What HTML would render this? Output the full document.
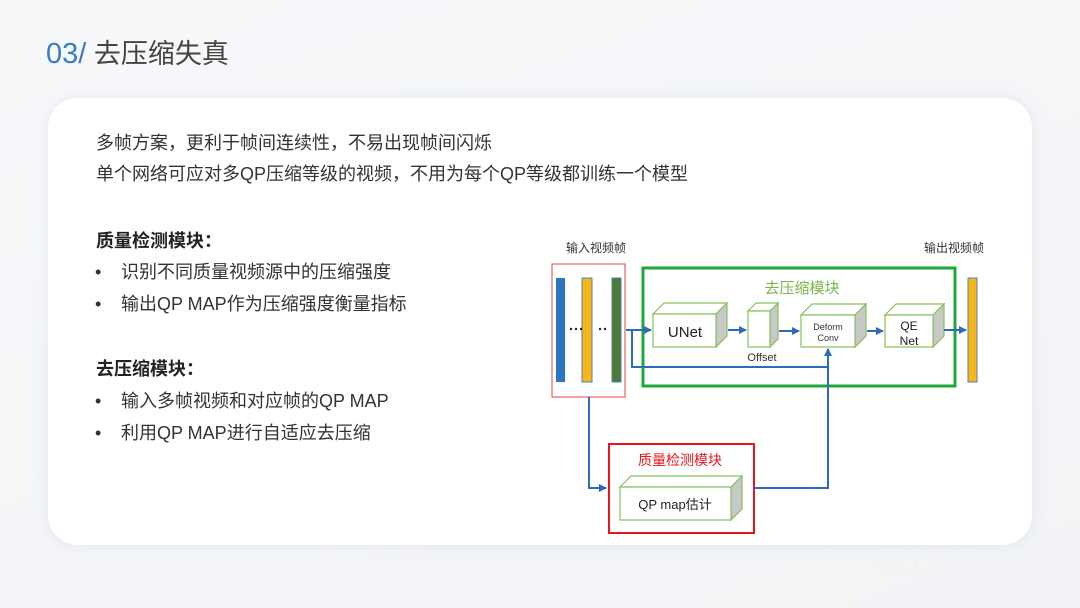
<!DOCTYPE html>
<html><head><meta charset="utf-8"><style>
body{margin:0;width:1080px;height:608px;overflow:hidden;background:linear-gradient(160deg,#f7f8fa,#f1f3f6);font-family:"Liberation Sans","Noto Sans CJK SC",sans-serif;position:relative;color:#333}
.card{position:absolute;left:48px;top:98px;width:984px;height:447px;background:#fff;border-radius:30px;box-shadow:0 0 12px rgba(180,190,210,0.25)}
.t{position:absolute;white-space:nowrap;font-size:18px;line-height:22px;color:#333}
.b{font-weight:bold;color:#222}
</style></head><body>
<div class="t" style="left:46px;top:37px;font-size:27px;line-height:34px;color:#444"><span style="color:#3a7cc8;font-size:29px">03/</span> 去压缩失真</div>
<div class="card"></div>
<div class="t" style="left:96px;top:132px">多帧方案，更利于帧间连续性，不易出现帧间闪烁</div>
<div class="t" style="left:96px;top:163px">单个网络可应对多QP压缩等级的视频，不用为每个QP等级都训练一个模型</div>
<div class="t b" style="left:96px;top:230px">质量检测模块：</div>
<div class="t" style="left:95px;top:261px">•</div><div class="t" style="left:121px;top:261px">识别不同质量视频源中的压缩强度</div>
<div class="t" style="left:95px;top:293px">•</div><div class="t" style="left:121px;top:293px">输出QP MAP作为压缩强度衡量指标</div>
<div class="t b" style="left:96px;top:358px">去压缩模块：</div>
<div class="t" style="left:95px;top:390px">•</div><div class="t" style="left:121px;top:390px">输入多帧视频和对应帧的QP MAP</div>
<div class="t" style="left:95px;top:422px">•</div><div class="t" style="left:121px;top:422px">利用QP MAP进行自适应去压缩</div>
<div class="t" style="left:876px;top:546px;font-size:26px;line-height:30px;color:#f1f2f4;font-weight:bold">稀土开发者大会</div>
<svg width="1080" height="608" style="position:absolute;left:0;top:0" font-family="Liberation Sans, Noto Sans CJK SC, sans-serif">
<defs><marker id="a" markerWidth="8" markerHeight="8" refX="7" refY="4" orient="auto" markerUnits="userSpaceOnUse"><path d="M0,0L8,4L0,8z" fill="#2e6bc0"/></marker></defs>
<text x="596" y="252" font-size="12" text-anchor="middle" fill="#333">输入视频帧</text>
<text x="954" y="252" font-size="12" text-anchor="middle" fill="#333">输出视频帧</text>
<rect x="552" y="264" width="73" height="133" fill="none" stroke="#e84040" stroke-width="1"/>
<rect x="556" y="278" width="9" height="104" fill="#2e75c0"/>
<rect x="582" y="278" width="10" height="104" fill="#f5b818" stroke="#4a7fc0" stroke-width="1"/>
<rect x="612" y="278" width="9" height="104" fill="#4e7a32" stroke="#4a7fc0" stroke-width="1"/>
<g fill="#222"><circle cx="571" cy="329" r="1.2"/><circle cx="576" cy="329" r="1.2"/><circle cx="581" cy="329" r="1.2"/><circle cx="600" cy="329" r="1.2"/><circle cx="605" cy="329" r="1.2"/></g>
<rect x="643" y="268" width="312" height="118" fill="none" stroke="#1ea83a" stroke-width="3"/>
<text x="802" y="293" font-size="15" text-anchor="middle" fill="#7ab648">去压缩模块</text>
<g stroke="#86c05a" stroke-width="1.2">
<path d="M653,314l11,-11h63l-11,11z" fill="#fff"/><path d="M716,314l11,-11v33l-11,11z" fill="#c8c8c8"/><rect x="653" y="314" width="63" height="33" fill="#fff"/>
<path d="M748,311l8,-8h22l-8,8z" fill="#fff"/><path d="M770,311l8,-8v36l-8,8z" fill="#c8c8c8"/><rect x="748" y="311" width="22" height="36" fill="#fff"/>
<path d="M801,315l11,-11h54l-11,11z" fill="#fff"/><path d="M855,315l11,-11v32l-11,11z" fill="#c8c8c8"/><rect x="801" y="315" width="54" height="32" fill="#fff"/>
<path d="M885,315l11,-11h48l-11,11z" fill="#fff"/><path d="M933,315l11,-11v32l-11,11z" fill="#c8c8c8"/><rect x="885" y="315" width="48" height="32" fill="#fff"/>
<path d="M620,487l11,-11h111l-11,11z" fill="#fff"/><path d="M731,487l11,-11v33l-11,11z" fill="#c8c8c8"/><rect x="620" y="487" width="111" height="33" fill="#fff"/>
</g>
<text x="685" y="337" font-size="15" text-anchor="middle" fill="#222">UNet</text>
<text x="762" y="361" font-size="11" text-anchor="middle" fill="#333">Offset</text>
<text x="828" y="330" font-size="9" text-anchor="middle" fill="#333">Deform</text>
<text x="828" y="341" font-size="9" text-anchor="middle" fill="#333">Conv</text>
<text x="909" y="330" font-size="12" text-anchor="middle" fill="#222">QE</text>
<text x="909" y="345" font-size="12" text-anchor="middle" fill="#222">Net</text>
<text x="675" y="509" font-size="13" text-anchor="middle" fill="#222">QP map估计</text>
<rect x="968" y="278" width="9" height="104" fill="#f5b818" stroke="#4a7fc0" stroke-width="1"/>
<rect x="609" y="444" width="145" height="89" fill="none" stroke="#e8141e" stroke-width="2"/>
<text x="680" y="465" font-size="14" text-anchor="middle" fill="#e8141e">质量检测模块</text>
<g stroke="#2e6bc0" stroke-width="2" fill="none">
<path d="M626,330H651" marker-end="url(#a)"/>
<path d="M728,330H746" marker-end="url(#a)"/>
<path d="M779,331H799" marker-end="url(#a)"/>
<path d="M867,331H883" marker-end="url(#a)"/>
<path d="M944,330H966" marker-end="url(#a)"/>
<path d="M632,330V367H828V349" marker-end="url(#a)"/>
<path d="M589,397V488H606" marker-end="url(#a)"/>
<path d="M754,488H828V367"/>
</g>
</svg>
</body></html>
